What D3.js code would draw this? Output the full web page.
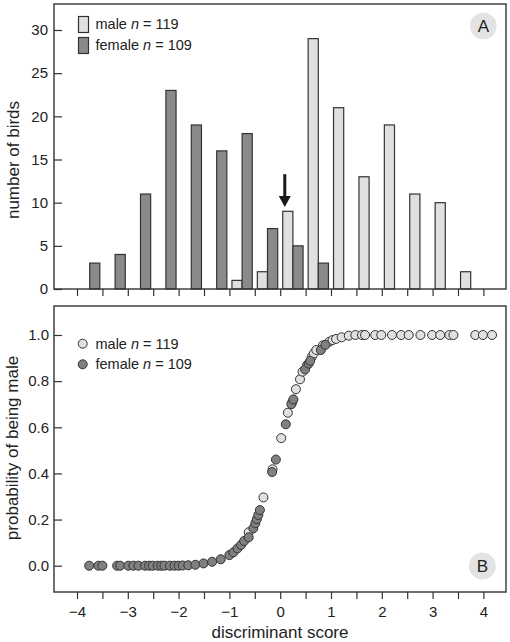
<!DOCTYPE html>
<html>
<head>
<meta charset="utf-8">
<script src="https://cdn.jsdelivr.net/npm/d3@7"></script>
<style>
  body { margin: 0; background: #fff; }
  text { font-family: "Liberation Sans", Arial, Helvetica, sans-serif; fill: #222; }
</style>
</head>
<body>
<script>
// ---------- DATA ----------
const binStarts = [-4, -3.5, -3, -2.5, -2, -1.5, -1, -0.5, 0, 0.5, 1, 1.5, 2, 2.5, 3, 3.5];
const maleCounts   = [0, 0, 0, 0, 0, 0, 1, 2, 9, 29, 21, 13, 19, 11, 10, 2];
const femaleCounts = [3, 4, 11, 23, 19, 16, 18, 7, 5, 3, 0, 0, 0, 0, 0, 0];
const yTicksA = [0, 5, 10, 15, 20, 25, 30];
const yTicksB = [0, 0.2, 0.4, 0.6, 0.8, 1.0];
const xTicks = [-4, -3.5, -3, -2.5, -2, -1.5, -1, -0.5, 0, 0.5, 1, 1.5, 2, 2.5, 3, 3.5, 4];
const arrowAt = 0.09;          // cut-off score marked by the arrow
const arrowFrom = 13.3, arrowTo = 9.5;

const maleScores = [-0.62, -0.33, -0.15, 0.02, 0.15, 0.24, 0.31, 0.39, 0.44, 0.53, 0.62, 0.66, 0.71, 0.84, 0.97, 1.03, 1.10, 1.21, 1.35,
  1.48, 1.61, 1.67, 1.87, 1.99, 2.20, 2.38, 2.53, 2.76, 2.99, 3.15, 3.33, 3.41, 3.84, 3.99, 4.17];
const maleProbs = [0.145, 0.296, 0.418, 0.553, 0.663, 0.71, 0.765, 0.808, 0.841, 0.870, 0.905, 0.920, 0.935, 0.955, 0.971, 0.978, 0.983, 0.990, 0.997,
  1, 1, 1, 1, 1, 1, 1, 1, 1, 1, 1, 1, 1, 1, 1, 1];

const femaleScores = [-3.76, -3.58, -3.50, -3.21, -3.15, -2.99, -2.89, -2.79, -2.66, -2.58, -2.51, -2.41, -2.34, -2.28, -2.17, -2.08, -2.00, -1.92, -1.81,
  -1.67, -1.51, -1.34, -1.17, -1.00, -0.92, -0.84, -0.77, -0.71, -0.62, -0.53, -0.49, -0.46, -0.43, -0.40,
  -0.16, -0.085, 0.11, 0.22, 0.26, 0.49, 0.56, 0.59, 0.80, 0.89];
const femaleProbs = [0, 0, 0, 0, 0, 0, 0, 0, 0, 0, 0, 0, 0, 0, 0, 0, 0, 0.001, 0.002,
  0.004, 0.010, 0.017, 0.028, 0.046, 0.058, 0.075, 0.090, 0.107, 0.123, 0.162, 0.184, 0.202, 0.220, 0.241,
  0.406, 0.460, 0.613, 0.700, 0.721, 0.851, 0.876, 0.888, 0.935, 0.957];

// ---------- LAYOUT ----------
const W = 510, H = 642;
const left = 54, right = 506;
const A = {top: 4, bottom: 289};
const B = {top: 306, bottom: 592};
const lightFill = "#e0e0e0", darkFill = "#8a8a8a", stroke = "#333";

const svg = d3.select("body").append("svg").attr("width", W).attr("height", H);

const x = d3.scaleLinear().domain([-4, 4]).range([77, 483.4]);
const yA = d3.scaleLinear().domain([0, 30]).range([A.bottom, 30]);
const yB = d3.scaleLinear().domain([0, 1]).range([565.7, 335]);

// ---------- PANEL A ----------
const gA = svg.append("g");
const barW = x(0.2) - x(0);
const bins = binStarts.map((b, i) => ({c: b + 0.25, m: maleCounts[i], f: femaleCounts[i]}));

gA.selectAll("rect.male").data(bins.filter(d => d.m > 0)).join("rect")
  .attr("x", d => x(d.c) - barW).attr("width", barW)
  .attr("y", d => yA(d.m)).attr("height", d => yA(0) - yA(d.m))
  .attr("fill", lightFill).attr("stroke", stroke).attr("stroke-width", 1.2);
gA.selectAll("rect.female").data(bins.filter(d => d.f > 0)).join("rect")
  .attr("x", d => x(d.c)).attr("width", barW)
  .attr("y", d => yA(d.f)).attr("height", d => yA(0) - yA(d.f))
  .attr("fill", darkFill).attr("stroke", stroke).attr("stroke-width", 1.2);

// frame
gA.append("rect").attr("x", left).attr("y", A.top).attr("width", right - left).attr("height", A.bottom - A.top)
  .attr("fill", "none").attr("stroke", stroke).attr("stroke-width", 1.4);

// axes
const xAxisA = d3.axisBottom(x).tickValues(xTicks).tickSize(7).tickFormat("");
gA.append("g").attr("transform", `translate(0,${A.bottom})`).call(xAxisA)
  .call(g => g.select(".domain").remove());
const yAxisA = d3.axisLeft(yA).tickValues(yTicksA).tickSize(-8).tickPadding(6);
gA.append("g").attr("transform", `translate(${left},0)`).call(yAxisA)
  .call(g => g.select(".domain").remove());

// arrow
const ax = x(arrowAt);
gA.append("line").attr("x1", ax).attr("x2", ax).attr("y1", yA(arrowFrom)).attr("y2", yA(arrowTo) - 8)
  .attr("stroke", "#1a1a1a").attr("stroke-width", 3);
gA.append("path")
  .attr("d", `M${ax - 6},${yA(arrowTo) - 11} L${ax + 6},${yA(arrowTo) - 11} L${ax},${yA(arrowTo)} Z`)
  .attr("fill", "#1a1a1a");

// legend A
const legA = gA.append("g");
legA.append("rect").attr("x", 78.5).attr("y", 16.5).attr("width", 10).attr("height", 16)
  .attr("fill", lightFill).attr("stroke", stroke).attr("stroke-width", 1.2);
legA.append("rect").attr("x", 78.5).attr("y", 37.5).attr("width", 10).attr("height", 16)
  .attr("fill", darkFill).attr("stroke", stroke).attr("stroke-width", 1.2);
function legendText(g, xx, yy, word, n) {
  const t = g.append("text").attr("x", xx).attr("y", yy).attr("font-size", 14.5);
  t.append("tspan").text(word + " ");
  t.append("tspan").attr("font-style", "italic").text("n");
  t.append("tspan").text(" = " + n);
}
legendText(legA, 95.5, 28.5, "male", 119);
legendText(legA, 95.5, 49.5, "female", 109);

// panel label A
gA.append("circle").attr("cx", 483.3).attr("cy", 26).attr("r", 13.3).attr("fill", "#e3e3e3");
gA.append("text").attr("x", 483.3).attr("y", 32).attr("text-anchor", "middle").attr("font-size", 17).text("A");

// y label A
gA.append("text").attr("transform", "translate(18.5,160) rotate(-90)").attr("text-anchor", "middle")
  .attr("font-size", 17).text("number of birds");

// ---------- PANEL B ----------
const gB = svg.append("g");
gB.append("rect").attr("x", left).attr("y", B.top).attr("width", right - left).attr("height", B.bottom - B.top)
  .attr("fill", "none").attr("stroke", stroke).attr("stroke-width", 1.4);

const xAxisB = d3.axisBottom(x).tickValues(xTicks).tickSize(7).tickPadding(7)
  .tickFormat(d => Number.isInteger(d) ? d3.format("")(d) : "");
gB.append("g").attr("transform", `translate(0,${B.bottom})`).call(xAxisB)
  .call(g => g.select(".domain").remove())
  .call(g => g.selectAll("text").attr("font-size", 15).attr("fill", "#222")
    .style("font-family", '"Liberation Sans", Arial, sans-serif'));
const yAxisB = d3.axisLeft(yB).tickValues(yTicksB).tickSize(-8).tickPadding(5).tickFormat(d3.format(".1f"));
gB.append("g").attr("transform", `translate(${left},0)`).call(yAxisB)
  .call(g => g.select(".domain").remove());

// style tick lines/labels
svg.selectAll(".tick line").attr("stroke", stroke).attr("stroke-width", 1.2);
svg.selectAll(".tick text").attr("font-size", 15).attr("fill", "#222")
  .style("font-family", '"Liberation Sans", Arial, sans-serif');

// points
const males = maleScores.map((s, i) => ({s, p: maleProbs[i]}));
const females = femaleScores.map((s, i) => ({s, p: femaleProbs[i]}));
gB.selectAll("circle.m").data(males).join("circle")
  .attr("cx", d => x(d.s)).attr("cy", d => yB(d.p)).attr("r", 4.5)
  .attr("fill", lightFill).attr("stroke", stroke).attr("stroke-width", 1);
gB.selectAll("circle.f").data(females).join("circle")
  .attr("cx", d => x(d.s)).attr("cy", d => yB(d.p)).attr("r", 4.5)
  .attr("fill", "#808080").attr("stroke", stroke).attr("stroke-width", 1);

// legend B
gB.append("circle").attr("cx", 82.7).attr("cy", 343.7).attr("r", 4.5)
  .attr("fill", lightFill).attr("stroke", stroke).attr("stroke-width", 1);
gB.append("circle").attr("cx", 82.7).attr("cy", 364.3).attr("r", 4.5)
  .attr("fill", "#808080").attr("stroke", stroke).attr("stroke-width", 1);
legendText(gB, 95.5, 348.5, "male", 119);
legendText(gB, 95.5, 369.3, "female", 109);

// panel label B
gB.append("circle").attr("cx", 482.3).attr("cy", 566).attr("r", 13.5).attr("fill", "#e3e3e3");
gB.append("text").attr("x", 482.3).attr("y", 572).attr("text-anchor", "middle").attr("font-size", 17).text("B");

// labels B
gB.append("text").attr("transform", "translate(17.5,448) rotate(-90)").attr("text-anchor", "middle")
  .attr("font-size", 17).text("probability of being male");
gB.append("text").attr("x", 280).attr("y", 637.5).attr("text-anchor", "middle")
  .attr("font-size", 17).text("discriminant score");
</script>
</body>
</html>
